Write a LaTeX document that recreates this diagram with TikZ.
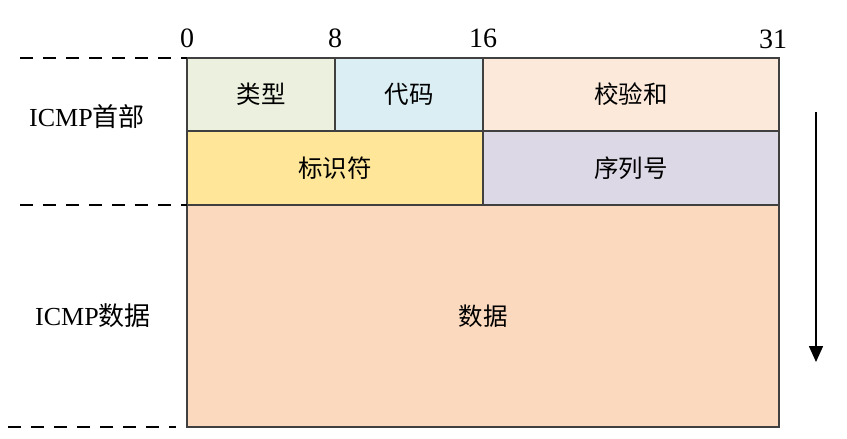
\documentclass[tikz,border=0pt]{standalone}
\usepackage{fontspec}
\setmainfont{Liberation Serif}
\newfontfamily\cjk{Noto Sans CJK SC}
\usetikzlibrary{positioning}
\usetikzlibrary{arrows.meta}

\definecolor{typefill}{RGB}{235,241,222}
\definecolor{codefill}{RGB}{218,238,243}
\definecolor{sumfill}{RGB}{252,233,218}
\definecolor{idfill}{RGB}{255,230,153}
\definecolor{seqfill}{RGB}{221,216,230}
\definecolor{datafill}{RGB}{250,217,190}
\definecolor{edge}{RGB}{64,64,64}

\begin{document}
\begin{tikzpicture}[
    x=1pt, y=-1pt,
    field/.style = {draw=edge, line width=1.2pt, rectangle, inner sep=0pt, outer sep=0pt,
      anchor=north west, font=\fontsize{24.5}{27}\selectfont\cjk},
    bit/.style = {font=\fontsize{28}{30}\selectfont, anchor=base, inner sep=0pt},
    part/.style = {font=\fontsize{26}{28}\selectfont},
    guide/.style = {line width=2pt, dash pattern=on 13pt off 10pt},
    ]
    \useasboundingbox (0,0) rectangle (847,439);

    % header, row 1
    \node[field, fill=typefill, minimum width=148pt, minimum height=73pt] (type) at (187,58) {类型};
    \node[field, fill=codefill, minimum width=148pt, minimum height=73pt] (code) at (335,58) {代码};
    \node[field, fill=sumfill, minimum width=296pt, minimum height=73pt] (sum) at (483,58) {校验和};
    % header, row 2
    \node[field, fill=idfill, minimum width=296pt, minimum height=74pt] (ident) at (187,131) {标识符};
    \node[field, fill=seqfill, minimum width=296pt, minimum height=74pt] (seq) at (483,131) {序列号};
    % payload
    \node[field, fill=datafill, minimum width=592pt, minimum height=222pt] (data) at (187,205) {数据};

    % bit positions
    \node[bit] (b0) at ([yshift=11pt]type.north west) {0};
    \node[bit] (b8) at ([yshift=11pt]code.north west) {8};
    \node[bit] (b16) at ([yshift=11pt]sum.north west) {16};
    \node[bit] (b31) at ([xshift=-6pt,yshift=10pt]sum.north east) {31};

    % section labels
    \node[part] (hdr) at (87,117) {ICMP{\cjk 首部}};
    \node[part] (pay) at (93,316) {ICMP{\cjk 数据}};

    \coordinate (g1) at (20,58);
    \coordinate (g2) at (20,205);
    \coordinate (g3) at (8,427);
    \coordinate (g3end) at (176,427);
    \draw[guide] (g1) -- (type.north west);
    \draw[guide] (g2) -- (ident.south west);
    \draw[guide] (g3) -- (g3end);

    % reading direction
    \coordinate (dirtop) at (816,112);
    \coordinate (dirbot) at (816,362);
    \draw[line width=1.6pt, -{Triangle[width=14pt,length=16pt]}] (dirtop) -- (dirbot);
\end{tikzpicture}
\end{document}
